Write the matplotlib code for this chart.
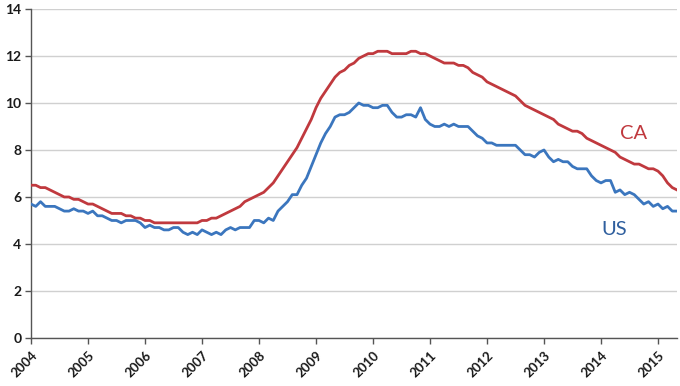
import matplotlib
matplotlib.use("Agg")
import matplotlib.pyplot as plt
import matplotlib.transforms as mtransforms
import numpy as np

years = list(range(2004, 2016))

us_rate = [
    5.7, 5.6, 5.8, 5.6, 5.6, 5.6, 5.5, 5.4, 5.4, 5.5, 5.4, 5.4,   # 2004
    5.3, 5.4, 5.2, 5.2, 5.1, 5.0, 5.0, 4.9, 5.0, 5.0, 5.0, 4.9,   # 2005
    4.7, 4.8, 4.7, 4.7, 4.6, 4.6, 4.7, 4.7, 4.5, 4.4, 4.5, 4.4,   # 2006
    4.6, 4.5, 4.4, 4.5, 4.4, 4.6, 4.7, 4.6, 4.7, 4.7, 4.7, 5.0,   # 2007
    5.0, 4.9, 5.1, 5.0, 5.4, 5.6, 5.8, 6.1, 6.1, 6.5, 6.8, 7.3,   # 2008
    7.8, 8.3, 8.7, 9.0, 9.4, 9.5, 9.5, 9.6, 9.8, 10.0, 9.9, 9.9,  # 2009
    9.8, 9.8, 9.9, 9.9, 9.6, 9.4, 9.4, 9.5, 9.5, 9.4, 9.8, 9.3,   # 2010
    9.1, 9.0, 9.0, 9.1, 9.0, 9.1, 9.0, 9.0, 9.0, 8.8, 8.6, 8.5,   # 2011
    8.3, 8.3, 8.2, 8.2, 8.2, 8.2, 8.2, 8.0, 7.8, 7.8, 7.7, 7.9,   # 2012
    8.0, 7.7, 7.5, 7.6, 7.5, 7.5, 7.3, 7.2, 7.2, 7.2, 6.9, 6.7,   # 2013
    6.6, 6.7, 6.7, 6.2, 6.3, 6.1, 6.2, 6.1, 5.9, 5.7, 5.8, 5.6,   # 2014
    5.7, 5.5, 5.6, 5.4, 5.4,                                      # 2015
]

ca_rate = [
    6.5, 6.5, 6.4, 6.4, 6.3, 6.2, 6.1, 6.0, 6.0, 5.9, 5.9, 5.8,   # 2004
    5.7, 5.7, 5.6, 5.5, 5.4, 5.3, 5.3, 5.3, 5.2, 5.2, 5.1, 5.1,   # 2005
    5.0, 5.0, 4.9, 4.9, 4.9, 4.9, 4.9, 4.9, 4.9, 4.9, 4.9, 4.9,   # 2006
    5.0, 5.0, 5.1, 5.1, 5.2, 5.3, 5.4, 5.5, 5.6, 5.8, 5.9, 6.0,   # 2007
    6.1, 6.2, 6.4, 6.6, 6.9, 7.2, 7.5, 7.8, 8.1, 8.5, 8.9, 9.3,   # 2008
    9.8, 10.2, 10.5, 10.8, 11.1, 11.3, 11.4, 11.6, 11.7, 11.9, 12.0, 12.1,  # 2009
    12.1, 12.2, 12.2, 12.2, 12.1, 12.1, 12.1, 12.1, 12.2, 12.2, 12.1, 12.1,  # 2010
    12.0, 11.9, 11.8, 11.7, 11.7, 11.7, 11.6, 11.6, 11.5, 11.3, 11.2, 11.1,  # 2011
    10.9, 10.8, 10.7, 10.6, 10.5, 10.4, 10.3, 10.1, 9.9, 9.8, 9.7, 9.6,      # 2012
    9.5, 9.4, 9.3, 9.1, 9.0, 8.9, 8.8, 8.8, 8.7, 8.5, 8.4, 8.3,   # 2013
    8.2, 8.1, 8.0, 7.9, 7.7, 7.6, 7.5, 7.4, 7.4, 7.3, 7.2, 7.2,   # 2014
    7.1, 6.9, 6.6, 6.4, 6.3,                                      # 2015
]

red = "#C0393E"
blue = "#3B76BE"
label_blue = "#2F5F9E"

fig = plt.figure(figsize=(6.8, 3.86), dpi=100)
ax = fig.add_axes([0.0456, 0.1244, 0.9500, 0.8523])

months = np.arange(len(us_rate))
ax.plot(months, ca_rate, color=red, lw=2.0, solid_joinstyle="round", zorder=3)
ax.plot(months, us_rate, color=blue, lw=2.0, solid_joinstyle="round", zorder=3)

ax.set_xlim(0, len(us_rate) - 1)
ax.set_ylim(0, 14)
ax.set_yticks(range(0, 15, 2))
ax.set_xticks([12 * i for i in range(len(years))])
ax.set_xticklabels([str(y) for y in years], rotation=45, ha="right",
                   rotation_mode="anchor")

offset = mtransforms.ScaledTranslation(6 / 100, -5 / 100, fig.dpi_scale_trans)
for lab in ax.get_xticklabels():
    lab.set_fontfamily("Lato")
    lab.set_fontweight("bold")
    lab.set_fontsize(9.5)
    lab.set_color("#1a1a1a")
    lab.set_transform(lab.get_transform() + offset)
for lab in ax.get_yticklabels():
    lab.set_fontfamily("Lato")
    lab.set_fontweight("bold")
    lab.set_fontsize(10)
    lab.set_color("#1a1a1a")

ax.grid(axis="y", color="#D0D0D0", lw=1.0)
ax.set_axisbelow(True)
for s in ("top", "right"):
    ax.spines[s].set_visible(False)
for s in ("left", "bottom"):
    ax.spines[s].set_color("#555555")
    ax.spines[s].set_linewidth(1.0)
ax.tick_params(axis="both", direction="out", length=4, color="#555555", width=1.0)
ax.tick_params(axis="y", pad=3)
ax.tick_params(axis="x", pad=4)

ax.text(126.8, 8.7, "CA", color=red, fontsize=14.5, fontfamily="Lato",
        ha="center", va="center")
ax.text(122.8, 4.6, "US", color=label_blue, fontsize=14.5, fontfamily="Lato",
        ha="center", va="center")

fig.savefig("out.png", dpi=100)
